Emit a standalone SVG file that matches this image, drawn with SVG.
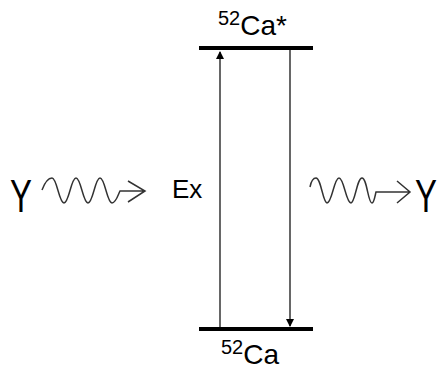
<svg xmlns="http://www.w3.org/2000/svg" width="439" height="371" viewBox="0 0 439 371">
<style>
.lvl{stroke:#000;stroke-width:4;fill:none}
.tr{stroke:#000;stroke-width:1.2;fill:none}
.wave{stroke:#333;stroke-width:1.5;fill:none}
.t{font-family:"Liberation Sans",Arial,sans-serif;fill:#000}
</style>
<defs>
<marker id="ah" markerWidth="8" markerHeight="10" refX="7" refY="4" orient="auto" markerUnits="userSpaceOnUse" viewBox="0 0 8 8">
<path d="M0,0 L8,4 L0,8 Z" fill="#000"/>
</marker>
</defs>
<rect width="439" height="371" fill="#fff"/>
<g id="excited">
<line class="lvl" x1="199" y1="48" x2="313" y2="48"/>
<text class="t" x="218" y="35" font-size="28"><tspan font-size="20" dy="-10">52</tspan><tspan dy="10">Ca*</tspan></text>
</g>
<g id="ground">
<line class="lvl" x1="199" y1="329" x2="313" y2="329"/>
<text class="t" x="221" y="364" font-size="28"><tspan font-size="20" dy="-10">52</tspan><tspan dy="10">Ca</tspan></text>
</g>
<g id="ex-label">
<text class="t" x="172" y="198" font-size="26">Ex</text>
</g>
<g id="gamma-in">
<text class="t" transform="translate(10,212) scale(0.7,1)" font-size="47">Y</text>
<path class="wave" d="M42,190 C45,182 48,178 52,178 C57,178 59,203 64,203 C69,203 71,178 76,178 C81,178 83,203 88,203 C93,203 95,178 100,178 C105,178 107,203 112,203 C116,203 118,195 120,191 L145,191 M128,181 L145,191 L128,202"/>
</g>
<g id="gamma-out">
<path class="wave" d="M310,187 C311,182 313,178 316,178 C321,178 323,203 327,203 C332,203 334,178 339,178 C344,178 346,203 351,203 C355,203 357,178 362,178 C367,178 368,203 372,203 C374,203 375,196 376,192 L410,192 M397,181 L410,192 L397,203"/>
<text class="t" transform="translate(415,212) scale(0.7,1)" font-size="47">Y</text>
</g>
<g id="connectors">
<line class="tr" x1="220" y1="329" x2="220" y2="52" marker-end="url(#ah)"/>
<line class="tr" x1="290" y1="48" x2="290" y2="326" marker-end="url(#ah)"/>
</g>
</svg>
